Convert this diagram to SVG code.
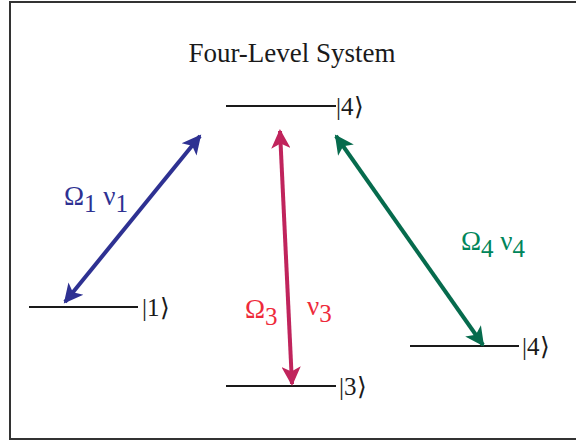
<svg xmlns="http://www.w3.org/2000/svg" width="576" height="444" viewBox="0 0 576 444">
<style>
text{font-family:"Liberation Serif","Times New Roman",serif;}
.lvl{stroke:#1a1a1a;stroke-width:2.2;}
.ket{font-size:25px;fill:#1a1a1a;}
.lab{font-size:27px;}
.sub{font-size:25px;}
</style>
<defs>
<marker id="mb" viewBox="0 0 10 10" refX="9" refY="5" markerWidth="5.5" markerHeight="4.8" markerUnits="strokeWidth" orient="auto-start-reverse"><path d="M0,0 L10,5 L0,10 L2.5,5 Z" fill="#2e3192"/></marker>
<marker id="mr" viewBox="0 0 10 10" refX="9" refY="5" markerWidth="5.5" markerHeight="4.8" markerUnits="strokeWidth" orient="auto-start-reverse"><path d="M0,0 L10,5 L0,10 L2.5,5 Z" fill="#c0245c"/></marker>
<marker id="mg" viewBox="0 0 10 10" refX="9" refY="5" markerWidth="5.5" markerHeight="4.8" markerUnits="strokeWidth" orient="auto-start-reverse"><path d="M0,0 L10,5 L0,10 L2.5,5 Z" fill="#066b4d"/></marker>
</defs>
<rect x="10" y="2" width="580" height="437" fill="#fff" stroke="#333" stroke-width="2"/>
<text x="292" y="62" font-size="27" text-anchor="middle" fill="#1a1a1a">Four-Level System</text>
<g id="level4top"><line class="lvl" x1="226" y1="106" x2="336" y2="106"/><text class="ket" x="336" y="115">|4⟩</text></g>
<g id="level1"><line class="lvl" x1="29" y1="307" x2="138" y2="307"/><text class="ket" x="142" y="316">|1⟩</text></g>
<g id="level3"><line class="lvl" x1="226" y1="386" x2="336" y2="386"/><text class="ket" x="339" y="395">|3⟩</text></g>
<g id="level4right"><line class="lvl" x1="410" y1="346" x2="519" y2="346"/><text class="ket" x="522" y="355">|4⟩</text></g>
<g id="connectors">
<line x1="200" y1="136" x2="65" y2="302" stroke="#2e3192" stroke-width="4" marker-start="url(#mb)" marker-end="url(#mb)"/>
<line x1="280" y1="131" x2="292" y2="384" stroke="#c0245c" stroke-width="4" marker-start="url(#mr)" marker-end="url(#mr)"/>
<line x1="336" y1="136" x2="483" y2="345" stroke="#066b4d" stroke-width="4" marker-start="url(#mg)" marker-end="url(#mg)"/>
</g>
<g id="labels">
<text class="lab" x="64" y="205" fill="#2e3192">Ω<tspan class="sub" dy="7">1</tspan><tspan dy="-7"> ν</tspan><tspan class="sub" dy="7">1</tspan></text>
<text class="lab" x="245" y="318" fill="#ee2a3a">Ω<tspan class="sub" dy="7">3</tspan></text>
<text class="lab" x="307" y="315" fill="#ee2a3a">ν<tspan class="sub" dy="7">3</tspan></text>
<text class="lab" x="461" y="250" fill="#00855a">Ω<tspan class="sub" dy="7">4</tspan><tspan dy="-7"> ν</tspan><tspan class="sub" dy="7">4</tspan></text>
</g>
</svg>
